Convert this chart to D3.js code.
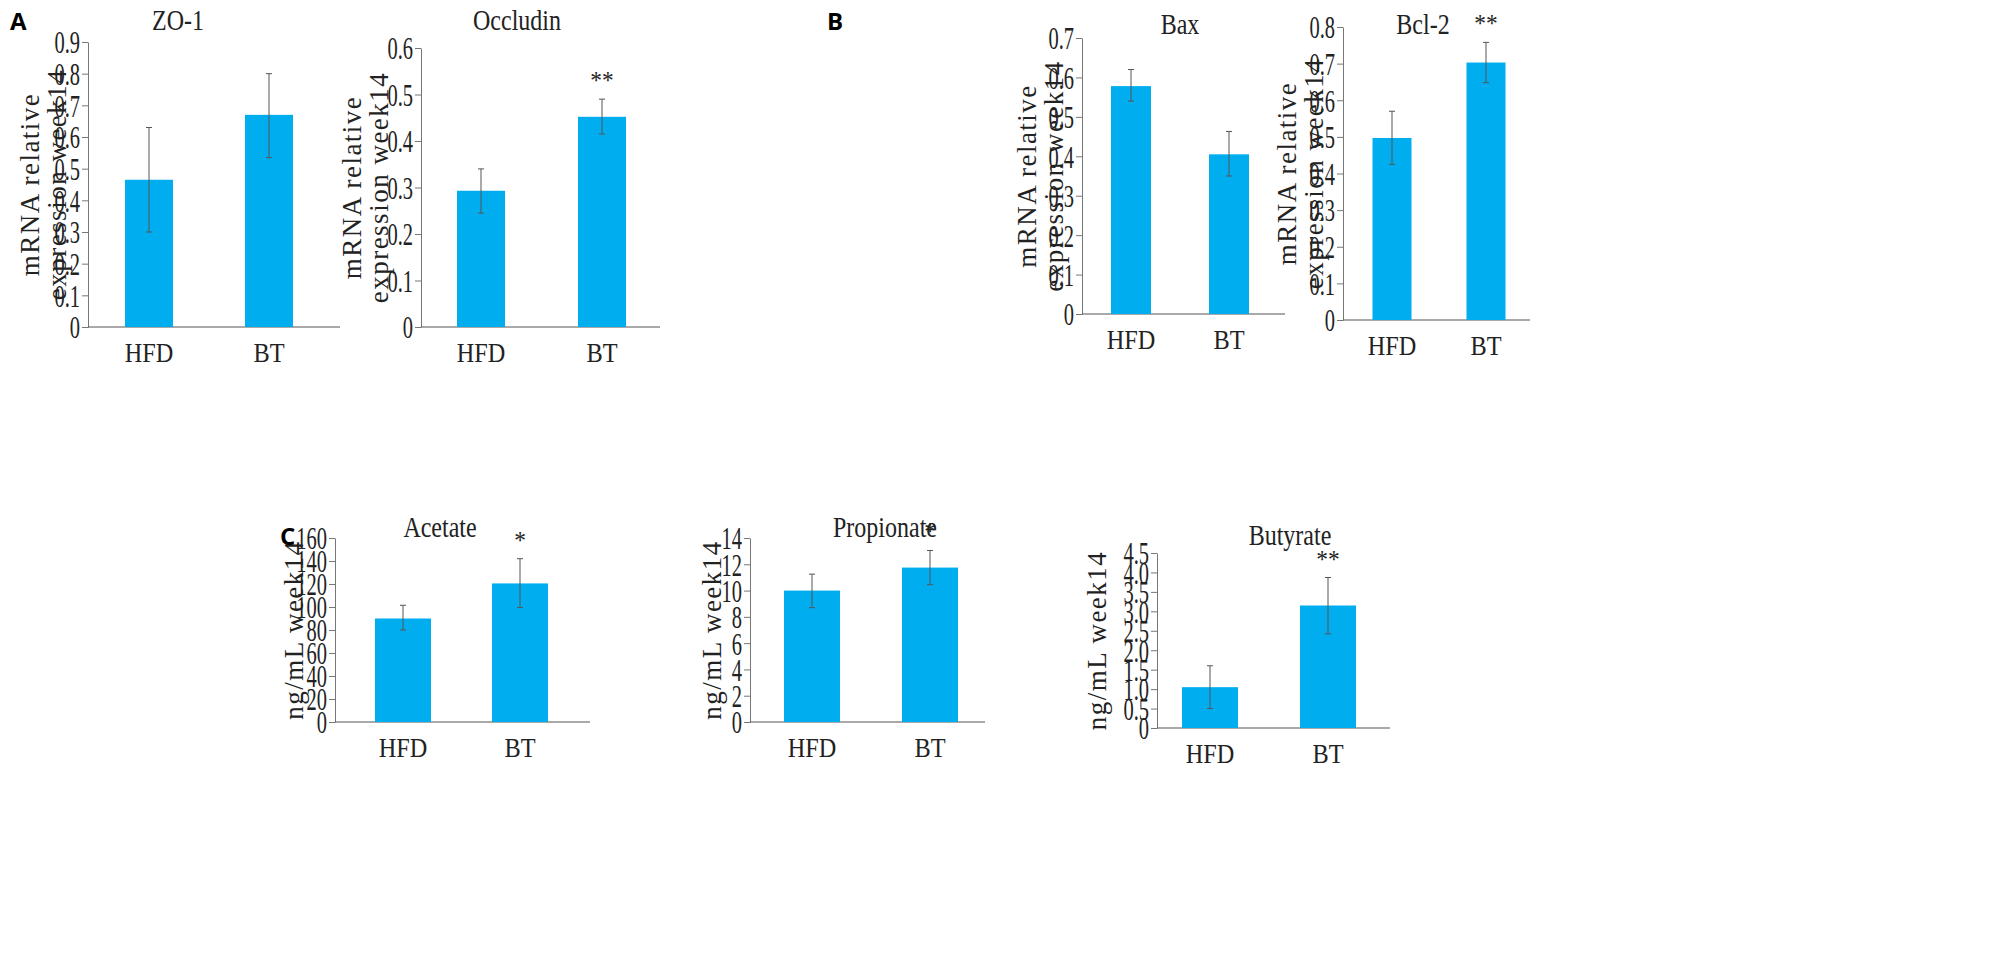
<!DOCTYPE html>
<html><head><meta charset="utf-8">
<script src="https://cdn.jsdelivr.net/npm/d3@7"></script>
<style>body{margin:0;background:#fff}svg{display:block}</style>
</head><body>
<svg id="c" width="2009" height="974"></svg>
<script>
const categories = ["HFD","BT"];
const titles = ["ZO-1","Occludin","Bax","Bcl-2","Acetate","Propionate","Butyrate"];
const means = [[0.465,0.67],[0.293,0.452],[0.578,0.405],[0.497,0.703],[90,120.5],[10,11.75],[1.05,3.15]];
const errLow = [[0.30,0.535],[0.245,0.415],[0.54,0.35],[0.425,0.648],[80,99.5],[8.7,10.45],[0.5,2.42]];
const errHigh = [[0.63,0.80],[0.34,0.49],[0.62,0.463],[0.57,0.758],[101.5,142],[11.25,13.05],[1.6,3.87]];
const signif = [["",""],["","**"],["",""],["","**"],["","*"],["","*"],["","**"]];
const yMax = [0.9,0.6,0.7,0.8,160,14,4.5];
const yStep = [0.1,0.1,0.1,0.1,20,2,0.5];
const tickFmt = [".1f",".1f",".1f",".1f","d","d",".1f"];
const yLabels = [["mRNA relative","expression week14"],["mRNA relative","expression week14"],["mRNA relative","expression week14"],["mRNA relative","expression week14"],["ng/mL week14"],["ng/mL week14"],["ng/mL week14"]];

const L = [
 {ax:88, top:42, bot:327, xEnd:340, c:[149,269], bw:48, tx:178, ty:30, lx:[30,57]},
 {ax:421, top:48, bot:327, xEnd:660, c:[481,602], bw:48, tx:517, ty:30, lx:[352,379]},
 {ax:1082, top:38, bot:314, xEnd:1285, c:[1131,1229], bw:40, tx:1180, ty:34, lx:[1027,1054]},
 {ax:1343, top:27, bot:320, xEnd:1530, c:[1392,1486], bw:39, tx:1423, ty:34, lx:[1287,1314]},
 {ax:335, top:538, bot:722, xEnd:590, c:[403,520], bw:56, tx:440, ty:537, lx:[294]},
 {ax:750, top:538, bot:722, xEnd:985, c:[812,930], bw:56, tx:885, ty:537, lx:[712]},
 {ax:1157, top:553, bot:728, xEnd:1390, c:[1210,1328], bw:56, tx:1290, ty:545, lx:[1097]}
];
const svg = d3.select("#c");
const font = "Liberation Serif, Times New Roman, serif";
function stext(g,x,y,s,size,sx,anchor){
  return g.append("text").attr("transform",`translate(${x},${y}) scale(${sx},1)`).attr("text-anchor",anchor||"middle")
    .attr("font-family",font).attr("font-size",size).attr("fill","#222").text(s);
}
titles.forEach((t,i)=>{
  const l = L[i];
  const y = d3.scaleLinear().domain([0,yMax[i]]).range([l.bot,l.top]);
  const x = d3.scaleOrdinal().domain(categories).range(l.c);
  const g = svg.append("g");
  const ticks = d3.range(0, yMax[i]+yStep[i]/2, yStep[i]);
  const ya = g.append("g").attr("transform",`translate(${l.ax},0)`)
    .call(d3.axisLeft(y).tickValues(ticks).tickFormat(v=> v===0?"0":d3.format(tickFmt[i])(v)).tickSize(6).tickSizeOuter(0));
  ya.selectAll("text").attr("font-family",font).attr("font-size",31).attr("fill","#222")
    .attr("x",0).attr("dy","0.35em").attr("transform","translate(-8,0) scale(0.66,1)");
  ya.selectAll("line,path").attr("stroke","#777");
  g.append("line").attr("x1",l.ax).attr("x2",l.xEnd).attr("y1",l.bot).attr("y2",l.bot).attr("stroke","#555").attr("stroke-width",1.2);
  categories.forEach((c,j)=>{
    const cx = x(c);
    g.append("rect").attr("x",cx-l.bw/2).attr("width",l.bw).attr("y",y(means[i][j])).attr("height",l.bot-y(means[i][j])).attr("fill","#00aeef");
    g.append("line").attr("x1",cx).attr("x2",cx).attr("y1",y(errLow[i][j])).attr("y2",y(errHigh[i][j])).attr("stroke","#555").attr("stroke-width",1);
    [errLow[i][j],errHigh[i][j]].forEach(v=>g.append("line").attr("x1",cx-3).attr("x2",cx+3).attr("y1",y(v)).attr("y2",y(v)).attr("stroke","#555"));
    stext(g,cx,l.bot+35,c,27,0.9);
    if(signif[i][j]) stext(g,cx,y(errHigh[i][j])-10,signif[i][j],26,0.9);
  });
  stext(g,l.tx,l.ty,t,30,0.8);
  const cy = (l.top+l.bot)/2;
  yLabels[i].forEach((s,k)=>{
    g.append("text").attr("transform",`translate(${l.lx[k]},${cy}) rotate(-90)`).attr("text-anchor","middle").attr("dy","0.35em")
      .attr("font-family",font).attr("font-size",27).attr("letter-spacing",1.5).attr("fill","#222").text(s);
  });
});
[["A",10,30],["B",827,30],["C",280,545]].forEach(([s,x0,y0])=>svg.append("text").attr("x",x0).attr("y",y0).attr("font-family","Open Sans, DejaVu Sans, sans-serif").attr("font-weight","bold").attr("font-size",24).text(s));
</script>
</body></html>
